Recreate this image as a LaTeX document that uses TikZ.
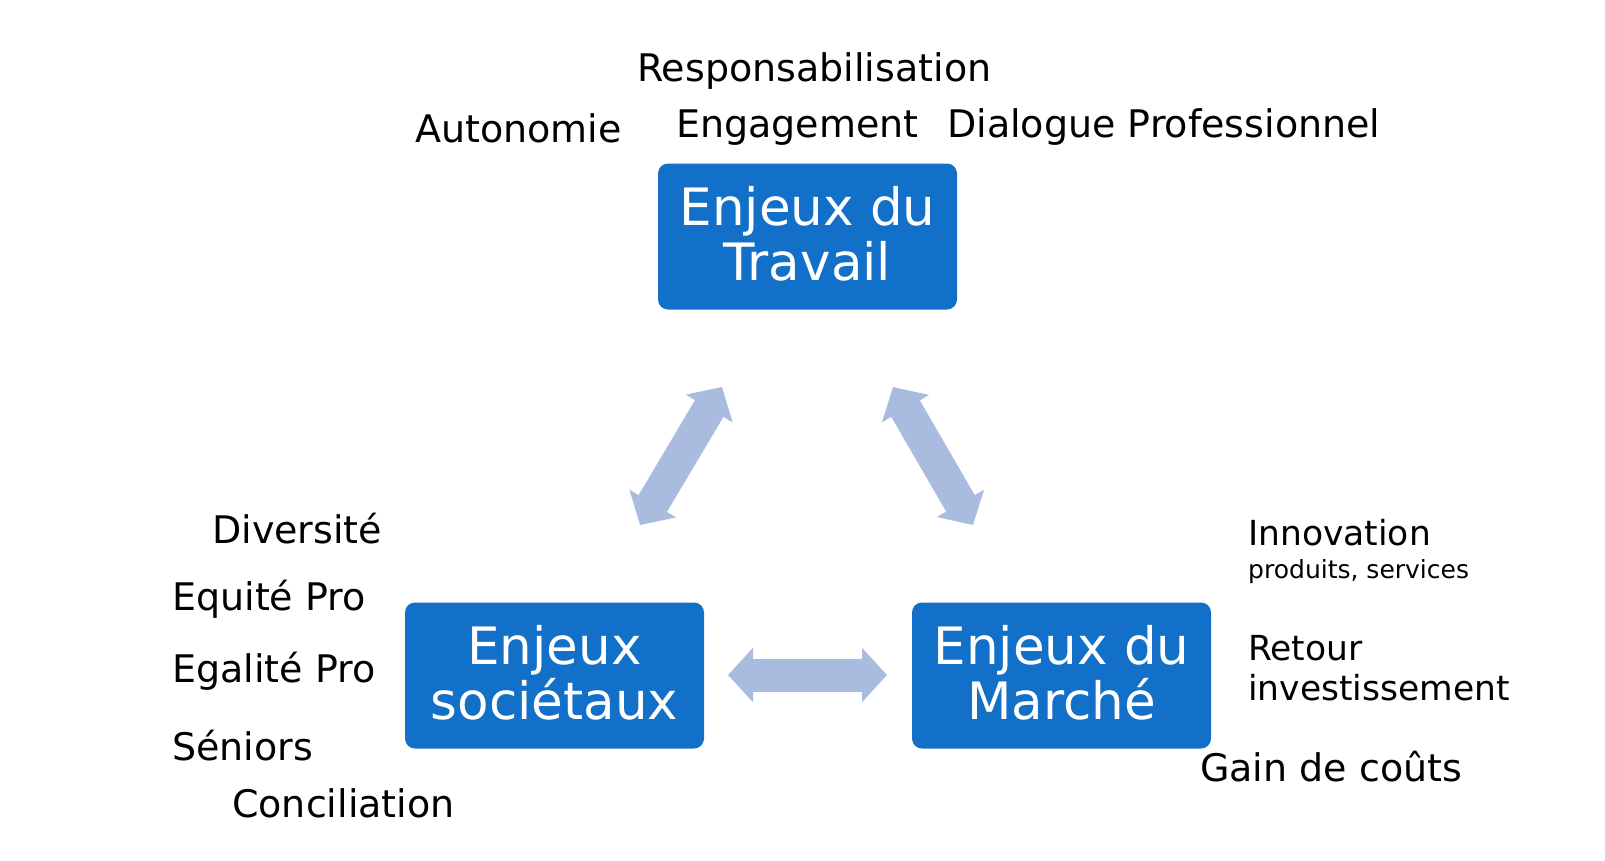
\documentclass[tikz,border=0pt]{standalone}
\usepackage{fontspec}
\setmainfont{DejaVu Sans}
\usetikzlibrary{arrows.meta}
\definecolor{boxblue}{HTML}{1370C8}
\definecolor{arrblue}{HTML}{A9BCE0}
\begin{document}
\begin{tikzpicture}[x=1pt,y=-1pt,
  bx/.style={fill=boxblue, rounded corners=10pt, minimum width=299pt, minimum height=146pt,
    text=white, font=\fontsize{51.5}{55}\selectfont, align=center, inner sep=0pt, text depth=6pt},
  lbl/.style={anchor=base west, inner sep=0pt, font=\fontsize{38}{44}\selectfont},
  lblm/.style={anchor=base west, inner sep=0pt, font=\fontsize{34.5}{40}\selectfont},
  lbls/.style={anchor=base west, inner sep=0pt, font=\fontsize{25}{30}\selectfont},
  biarrow/.style={draw=arrblue, line width=33pt,
    {Triangle[width=53pt,length=25pt]}-{Triangle[width=53pt,length=25pt]}}]
\fill[white] (0,0) rectangle (1605,860);
\useasboundingbox (0,0) rectangle (1605,860);

\node[bx] (trav) at (807.5,236.5) {Enjeux du\\Travail};
\node[bx] (soc) at (554.5,675.5) {Enjeux\\sociétaux};
\node[bx] (mar) at (1061.5,675.5) {Enjeux du\\Marché};

\coordinate (a1) at (640,525);
\coordinate (a2) at (722,387);
\coordinate (a3) at (893,387);
\coordinate (a4) at (973,525);
\coordinate (a5) at (728,675);
\coordinate (a6) at (887,675);
\draw[biarrow] (a1) -- (a2);
\draw[biarrow] (a3) -- (a4);
\draw[biarrow] (a5) -- (a6);

\node[lbl] (resp) at (637,81) {Responsabilisation};
\node[lbl] (auto) at (415,142) {Autonomie};
\node[lbl] (enga) at (676,137) {Engagement};
\node[lbl] (dial) at (947,137) {Dialogue Professionnel};

\node[lbl] (dive) at (212,543) {Diversité};
\node[lbl] (equi) at (172,610) {Equité Pro};
\node[lbl] (egal) at (172,682) {Egalité Pro};
\node[lbl] (seni) at (172,760) {Séniors};
\node[lbl] (conc) at (232,817) {Conciliation};

\node[lblm] (inno) at (1248,545) {Innovation};
\node[lbls] (prod) at (1248,578) {produits, services};
\node[lblm] (reto) at (1248,660) {Retour};
\node[lblm] (inve) at (1248,700) {investissement};
\node[lbl] (gain) at (1200,781) {Gain de coûts};
\end{tikzpicture}
\end{document}
